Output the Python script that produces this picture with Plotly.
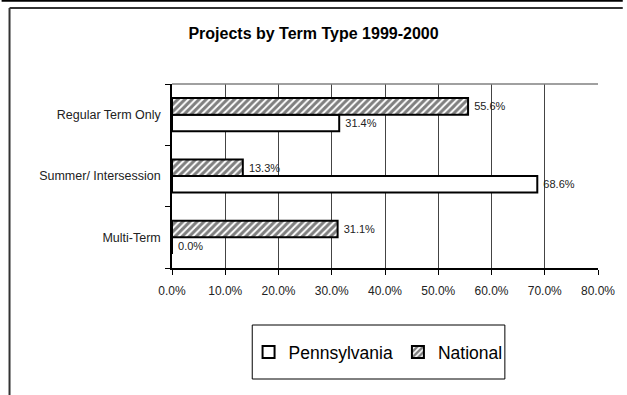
import plotly.graph_objects as go

categories = ["Multi-Term", "Summer/ Intersession", "Regular Term Only"]
pennsylvania = [0.0, 68.6, 31.4]
national = [31.1, 13.3, 55.6]
x_ticks = [0, 10, 20, 30, 40, 50, 60, 70, 80]
x_tick_labels = [f"{v:.1f}%" for v in x_ticks]

W, H = 627, 395
L, R, T, B = 172, 25, 84, 127
pw, ph = W - L - R, H - T - B

def px_x(px):
    return (px - L) / pw

def px_y(py):
    return (H - B - py) / ph

FONT = "Liberation Sans, Arial"
NB = "\u00a0"

fig = go.Figure()
fig.add_trace(go.Bar(
    y=categories, x=pennsylvania, orientation="h", name="Pennsylvania",
    marker=dict(color="white", line=dict(color="black", width=2)),
    text=[f"{NB}{v:.1f}%" for v in pennsylvania], textposition="outside",
    textfont=dict(family=FONT, size=11, color="#222"),
    cliponaxis=False,
))
fig.add_trace(go.Bar(
    y=categories, x=national, orientation="h", name="National",
    marker=dict(color="white", line=dict(color="black", width=2),
                pattern=dict(shape="/", fgcolor="black", bgcolor="white", size=5, solidity=0.6)),
    text=[f"{NB}{v:.1f}%" for v in national], textposition="outside",
    textfont=dict(family=FONT, size=11, color="#222"),
    cliponaxis=False,
))

shapes = [
    dict(type="line", xref="paper", yref="paper", x0=px_x(0), x1=px_x(W), y0=px_y(0.8), y1=px_y(0.8),
         line=dict(color="black", width=2)),
    dict(type="line", xref="paper", yref="paper", x0=px_x(8), x1=px_x(W), y0=px_y(8), y1=px_y(8),
         line=dict(color="#333", width=2)),
    dict(type="line", xref="paper", yref="paper", x0=px_x(8), x1=px_x(8), y0=px_y(8), y1=px_y(H),
         line=dict(color="#333", width=2)),
    dict(type="line", xref="paper", yref="paper", x0=0, x1=1, y0=1, y1=1,
         line=dict(color="#808080", width=1.5)),
    dict(type="rect", xref="paper", yref="paper", x0=px_x(253), x1=px_x(508), y0=px_y(325), y1=px_y(379),
         line=dict(color="black", width=1), fillcolor="rgba(0,0,0,0)"),
]

fig.update_layout(
    width=W, height=H,
    margin=dict(l=L, r=R, t=T, b=B),
    paper_bgcolor="white", plot_bgcolor="white",
    font=dict(family=FONT, color="black"),
    title=dict(text="<b>Projects by Term Type 1999-2000</b>", x=0.5, xref="container",
               y=1 - 33 / H, yref="container", xanchor="center", yanchor="middle",
               font=dict(size=16, color="black")),
    barmode="group", bargap=0.46, bargroupgap=0,
    xaxis=dict(range=[0, 80], tickvals=x_ticks, ticktext=x_tick_labels,
               showgrid=True, gridcolor="#444", gridwidth=1,
               showline=True, linecolor="black", linewidth=1.5,
               ticks="outside", ticklen=5, tickcolor="black",
               ticklabelstandoff=6,
               tickfont=dict(size=12, color="#222"), zeroline=False, fixedrange=True),
    yaxis=dict(categoryorder="array", categoryarray=categories,
               showline=True, linecolor="black", linewidth=1.5,
               ticks="outside", ticklen=5, tickcolor="black", tickson="boundaries",
               ticklabelstandoff=7,
               showgrid=False, tickfont=dict(size=12.5, color="#222"), fixedrange=True),
    legend=dict(orientation="h", x=px_x(380), xanchor="center", y=px_y(352), yanchor="middle",
                borderwidth=0, bgcolor="rgba(0,0,0,0)", font=dict(size=17.5, color="black"),
                traceorder="normal"),
    shapes=shapes,
    showlegend=True,
)

fig.write_html("out.html", config={"displayModeBar": False},
               post_script="document.body.style.margin='0px';document.body.style.overflow='hidden';document.documentElement.style.overflow='hidden';")
